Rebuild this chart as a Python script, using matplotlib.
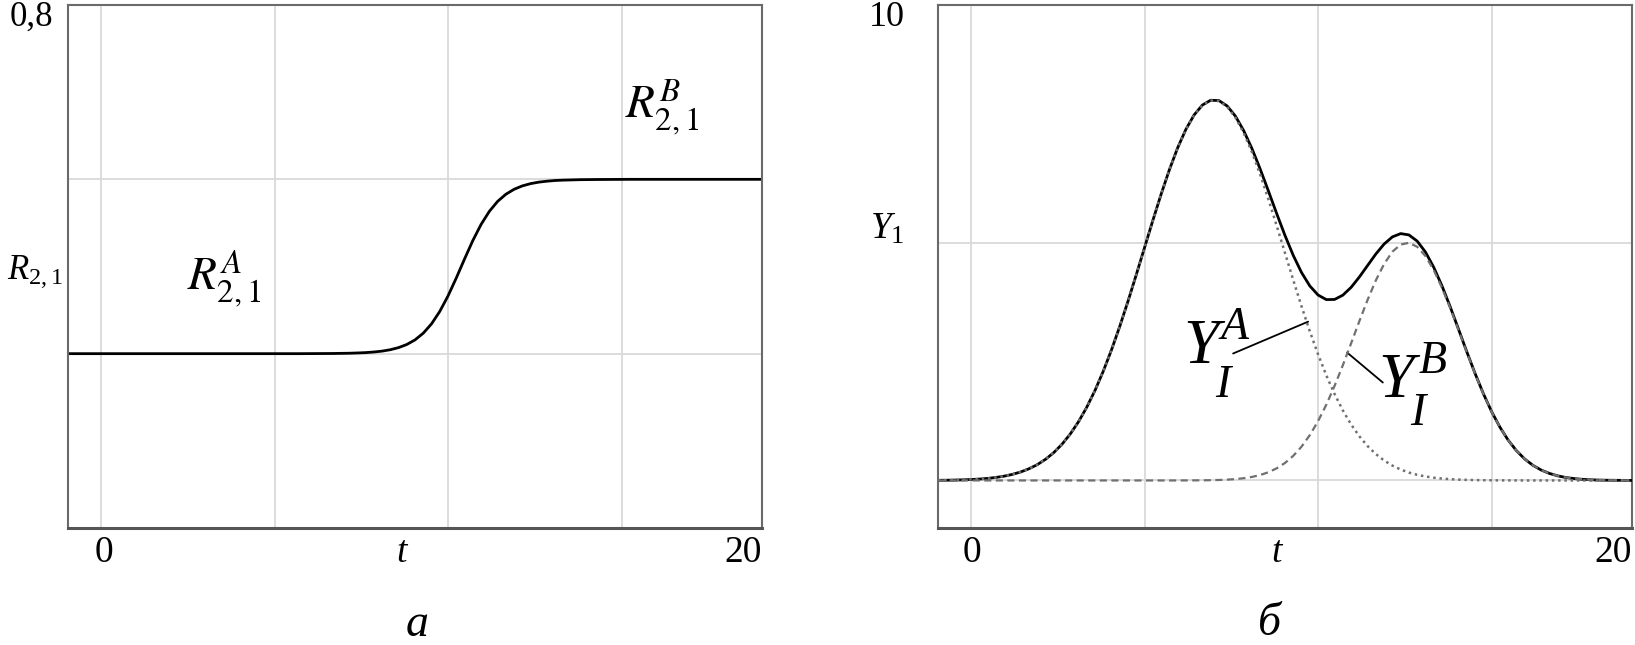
import matplotlib.pyplot as plt

plt.rcParams['font.family'] = ['Liberation Serif', 'DejaVu Serif']
plt.rcParams['mathtext.fontset'] = 'custom'
plt.rcParams['mathtext.rm'] = 'Liberation Serif'
plt.rcParams['mathtext.it'] = 'Liberation Serif:italic'

# panel a: R_{2,1}(t)
t_r = [-1, 6, 7, 7.5, 7.75, 8, 8.25, 8.5, 8.75, 9, 9.25, 9.5, 9.75, 10, 10.25,
       10.5, 10.75, 11, 11.25, 11.5, 11.75, 12, 12.25, 12.5, 12.75, 13, 13.25,
       13.5, 13.75, 14, 14.5, 15, 16, 20]
r21 = [0.4, 0.4, 0.4002, 0.4005, 0.4008, 0.4012, 0.4019, 0.4029, 0.4045,
       0.4069, 0.4105, 0.4158, 0.4235, 0.4342, 0.4485, 0.4663, 0.4869, 0.5087,
       0.5298, 0.5483, 0.5633, 0.5747, 0.5829, 0.5886, 0.5925, 0.5951, 0.5968,
       0.5979, 0.5987, 0.5991, 0.5996, 0.5998, 0.6, 0.6]

# panel б: Y1 and its two components, sampled every 0.25
t_y = [-1, -0.75, -0.5, -0.25, 0, 0.25, 0.5, 0.75, 1, 1.25, 1.5, 1.75,
       2, 2.25, 2.5, 2.75, 3, 3.25, 3.5, 3.75, 4, 4.25, 4.5, 4.75,
       5, 5.25, 5.5, 5.75, 6, 6.25, 6.5, 6.75, 7, 7.25, 7.5, 7.75,
       8, 8.25, 8.5, 8.75, 9, 9.25, 9.5, 9.75, 10, 10.25, 10.5, 10.75,
       11, 11.25, 11.5, 11.75, 12, 12.25, 12.5, 12.75, 13, 13.25, 13.5, 13.75,
       14, 14.25, 14.5, 14.75, 15, 15.25, 15.5, 15.75, 16, 16.25, 16.5, 16.75,
       17, 17.25, 17.5, 17.75, 18, 18.25, 18.5, 18.75, 19, 19.25, 19.5, 19.75,
       20]
y1_a = [0.003, 0.005, 0.008, 0.013, 0.020, 0.029, 0.043, 0.063,
        0.090, 0.128, 0.178, 0.245, 0.331, 0.443, 0.584, 0.760,
        0.975, 1.233, 1.539, 1.892, 2.296, 2.747, 3.241, 3.771,
        4.328, 4.898, 5.467, 6.017, 6.532, 6.993, 7.382, 7.686,
        7.892, 7.991, 7.980, 7.859, 7.633, 7.310, 6.906, 6.433,
        5.911, 5.354, 4.784, 4.215, 3.663, 3.139, 2.653, 2.211,
        1.818, 1.474, 1.178, 0.929, 0.722, 0.554, 0.419, 0.312,
        0.230, 0.166, 0.119, 0.084, 0.058, 0.040, 0.027, 0.018,
        0.012, 0.008, 0.005, 0.003, 0.002, 0.001, 0.001, 0.0,
        0, 0, 0, 0, 0, 0, 0, 0, 0, 0, 0, 0, 0]
y1_b = [0, 0, 0, 0, 0, 0, 0, 0, 0, 0, 0, 0, 0, 0,
        0, 0, 0, 0, 0, 0, 0, 0, 0, 0, 0, 0, 0, 0,
        0.0, 0.0, 0.001, 0.002, 0.003, 0.006, 0.010, 0.017,
        0.029, 0.047, 0.074, 0.115, 0.173, 0.256, 0.368, 0.518,
        0.711, 0.953, 1.247, 1.593, 1.989, 2.423, 2.883, 3.350,
        3.800, 4.210, 4.554, 4.811, 4.962, 4.998, 4.915, 4.720,
        4.426, 4.053, 3.624, 3.164, 2.697, 2.245, 1.825, 1.448,
        1.123, 0.850, 0.628, 0.453, 0.319, 0.220, 0.148, 0.097,
        0.062, 0.039, 0.024, 0.014, 0.008, 0.005, 0.003, 0.002,
        0.001]
y1 = [0.003, 0.005, 0.008, 0.013, 0.020, 0.029, 0.043, 0.063,
      0.090, 0.128, 0.178, 0.245, 0.331, 0.443, 0.584, 0.760,
      0.975, 1.233, 1.539, 1.892, 2.296, 2.747, 3.241, 3.771,
      4.328, 4.898, 5.467, 6.017, 6.532, 6.993, 7.383, 7.688,
      7.895, 7.997, 7.990, 7.876, 7.662, 7.357, 6.980, 6.548,
      6.084, 5.610, 5.152, 4.733, 4.374, 4.092, 3.900, 3.804,
      3.807, 3.897, 4.061, 4.279, 4.522, 4.764, 4.973, 5.123,
      5.192, 5.164, 5.034, 4.804, 4.484, 4.093, 3.651, 3.182,
      2.709, 2.253, 1.830, 1.451, 1.125, 0.851, 0.629, 0.453,
      0.319, 0.220, 0.148, 0.097, 0.062, 0.039, 0.024, 0.014,
      0.008, 0.005, 0.003, 0.002, 0.001]

grid_x = [0, 5.25, 10.5, 15.75]

W, H = 1635, 645
fig = plt.figure(figsize=(W / 100, H / 100), dpi=100)


def px(x, y):
    return x / W, 1 - y / H


def frame(ax, ylim, grid_y):
    ax.set_xlim(-1, 20)
    ax.set_ylim(*ylim)
    ax.set_xticks(grid_x)
    ax.set_yticks(grid_y)
    ax.set_xticklabels([])
    ax.set_yticklabels([])
    ax.tick_params(length=0)
    ax.grid(True, color='#d9d9d9', lw=1.3)
    ax.set_axisbelow(True)
    for s in ax.spines.values():
        s.set_color('#6a6a6a')
        s.set_linewidth(1.5)
    ax.spines['bottom'].set_color('#555555')
    ax.spines['bottom'].set_linewidth(2.2)


ax1 = fig.add_axes([68 / W, 1 - 528 / H, 694 / W, 523 / H])
ax2 = fig.add_axes([938 / W, 1 - 528 / H, 694 / W, 523 / H])
frame(ax1, (0.2, 0.8), [0.4, 0.6])
frame(ax2, (-1, 10), [0, 5])

# panel a
ax1.plot(t_r, r21, color='black', lw=2.0, solid_capstyle='butt')
ax1.text(2.6, 0.4724, r'$R^{A}_{2,1}$', fontsize=34, math_fontfamily='stix',
         ha='left', va='baseline')
ax1.text(15.85, 0.671, r'$R^{B}_{2,1}$', fontsize=34, math_fontfamily='stix',
         ha='left', va='baseline')

# panel б
ax2.plot(t_y, y1, color='black', lw=2.0, zorder=3)
ax2.plot(t_y, y1_b, color='#707070', lw=1.6, ls=(0, (3.2, 2.0)), zorder=4)
ax2.plot(t_y, y1_a, color='#707070', lw=1.8, ls=(0, (1, 1.5)), zorder=4)

lab = dict(style='italic', color='black')
ax2.text(6.41, 2.48, 'Y', fontsize=46, ha='left', va='baseline', **lab)
ax2.text(7.55, 2.98, 'A', fontsize=33, ha='left', va='baseline', **lab)
ax2.text(7.4, 1.75, 'I', fontsize=33, ha='left', va='baseline', **lab)
ax2.text(12.31, 1.76, 'Y', fontsize=46, ha='left', va='baseline', **lab)
ax2.text(13.55, 2.27, 'B', fontsize=33, ha='left', va='baseline', **lab)
ax2.text(13.3, 1.16, 'I', fontsize=33, ha='left', va='baseline', **lab)
line = dict(arrowstyle='-', lw=1.3, color='black', shrinkA=0, shrinkB=0)
ax2.annotate('', xy=(10.2, 3.34), xytext=(7.93, 2.67), arrowprops=line)
ax2.annotate('', xy=(12.46, 2.06), xytext=(11.38, 2.69), arrowprops=line)

# axis labels drawn as text, like the original
fig.text(*px(31, 17), '0,8', fontsize=25, ha='center', va='center')
fig.text(*px(35, 272), r'$R_{2,1}$', fontsize=25, ha='center', va='center')
fig.text(*px(887, 18), '10', fontsize=26, ha='center', va='center')
fig.text(*px(887, 229), r'$Y_{1}$', fontsize=27, ha='center', va='center')

for x0, xt, x20 in [(104, 402, 762), (972, 1277, 1632)]:
    fig.text(*px(x0, 553), '0', fontsize=27, ha='center', va='center')
    fig.text(*px(xt, 553), 't', fontsize=27, style='italic', ha='center', va='center')
    fig.text(*px(x20, 553), '20', fontsize=27, ha='right', va='center')

fig.text(*px(417, 625), 'а', fontsize=33, style='italic', ha='center', va='center')
fig.text(*px(1270, 624), 'б', fontsize=33, style='italic', ha='center', va='center')

fig.savefig('out.png', dpi=100)
